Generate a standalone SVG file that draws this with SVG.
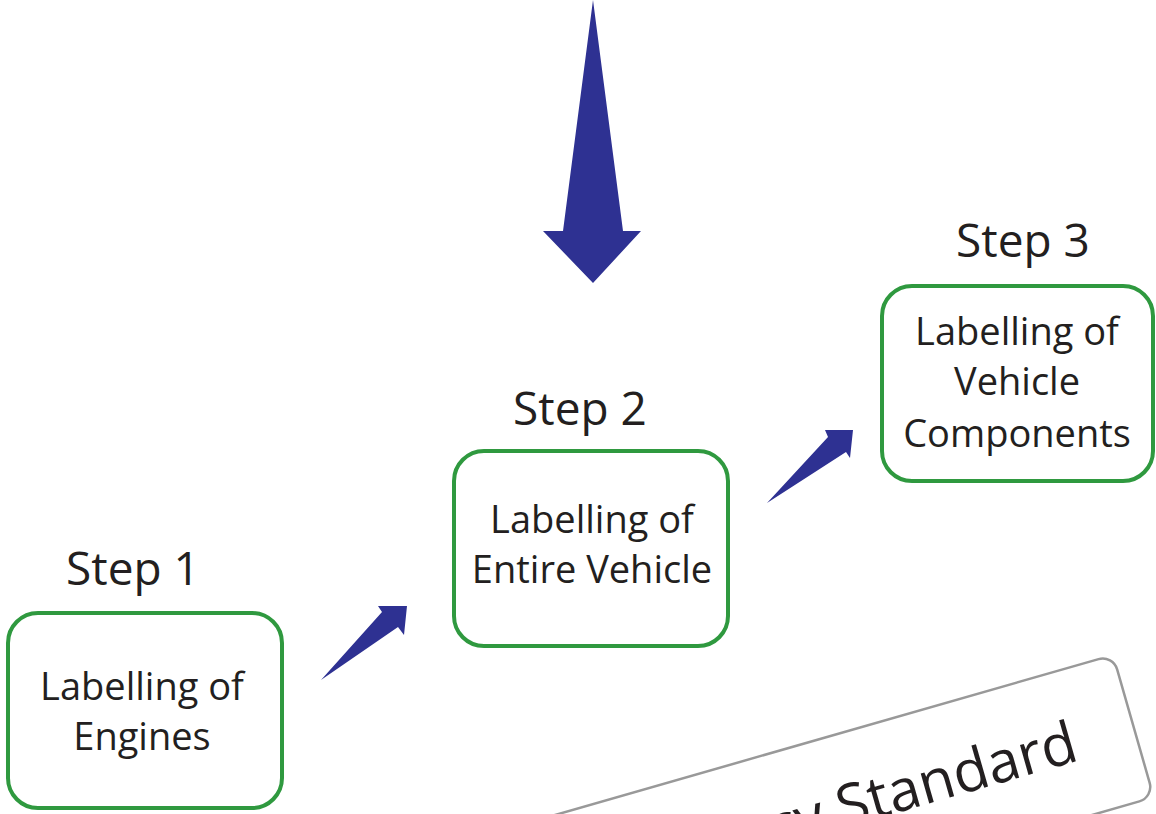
<svg xmlns="http://www.w3.org/2000/svg" width="1156" height="814" viewBox="0 0 1156 814">
<style>
.box{fill:#fff;stroke:#2f993f;stroke-width:4}
.t{font-family:"Open Sans","Liberation Sans",sans-serif;fill:#231f20;text-anchor:middle}
.lbl{font-size:38px}
.step{font-size:46px}
.arr{fill:#2e3192}
</style>
<rect width="1156" height="814" fill="#fff"/>
<g id="standard">
<g transform="translate(1113,655) rotate(-16)">
<rect x="-760" y="0" width="760" height="148" rx="15" fill="#fff" stroke="#999" stroke-width="2.5"/>
<text x="-60" y="92" class="t" style="font-size:58px;text-anchor:end">ncy Standard</text>
</g>
</g>
<g id="connectors">
<polygon class="arr" points="593,0 623,231 641,231 593,283 543,231 563,231"/>
<polygon class="arr" points="321,680 382,612 378,606 407,606 404,635 398,627"/>
<polygon class="arr" points="767,503 828,437 825,430 853,430 850,458 846,452"/>
</g>
<g id="step1">
<text x="133" y="585" class="t step">Step 1</text>
<rect x="8" y="613" width="274" height="195" rx="30" class="box"/>
<text x="142" y="700" class="t lbl">Labelling of</text>
<text x="142" y="750" class="t lbl">Engines</text>
</g>
<g id="step2">
<text x="580" y="425" class="t step">Step 2</text>
<rect x="454" y="451" width="274" height="195" rx="30" class="box"/>
<text x="592" y="533" class="t lbl">Labelling of</text>
<text x="592" y="583" class="t lbl">Entire Vehicle</text>
</g>
<g id="step3">
<text x="1023" y="257" class="t step">Step 3</text>
<rect x="882" y="286" width="271" height="195" rx="30" class="box"/>
<text x="1017" y="345" class="t lbl">Labelling of</text>
<text x="1017" y="395" class="t lbl">Vehicle</text>
<text x="1017" y="447" class="t lbl">Components</text>
</g>
</svg>
